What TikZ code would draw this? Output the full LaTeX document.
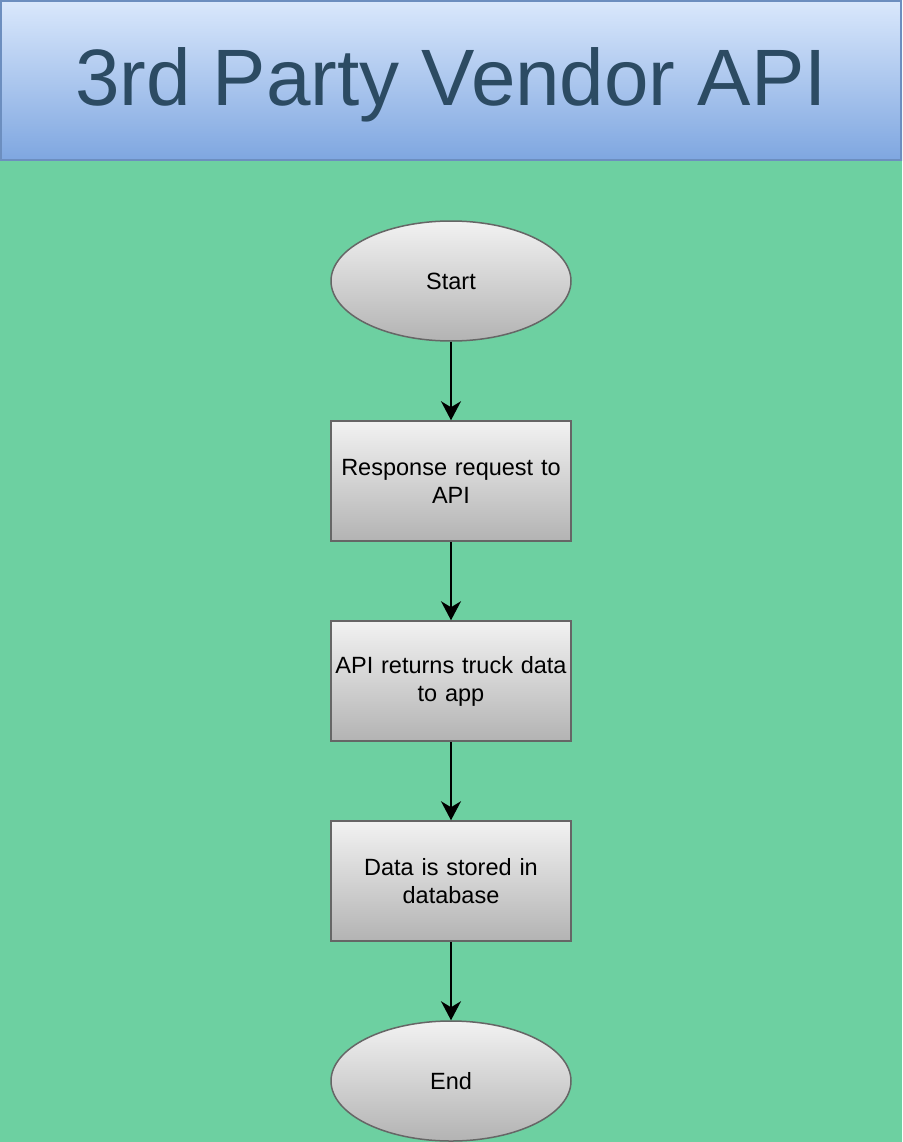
\documentclass[tikz,border=0pt]{standalone}
\usepackage{fontspec}
\setmainfont{Liberation Sans}
\usetikzlibrary{shapes.geometric,arrows.meta}
\definecolor{bggreen}{HTML}{6DD0A1}
\definecolor{titletop}{HTML}{DAE8FC}
\definecolor{titlebot}{HTML}{7EA6E0}
\definecolor{titleborder}{HTML}{6C8EBF}
\definecolor{titletext}{HTML}{2C4B63}
\definecolor{nodetop}{HTML}{F2F2F2}
\definecolor{nodebot}{HTML}{B3B3B3}
\definecolor{nodeborder}{HTML}{666666}
\tikzset{
  flowbox/.style={draw=nodeborder, line width=1.5pt, top color=nodetop, bottom color=nodebot,
    minimum width=240pt, minimum height=120pt, inner sep=0pt, align=center, text width=236pt,
    font=\fontsize{23.5}{28}\selectfont},
  terminal/.style={flowbox, ellipse, text width=, minimum width=240pt, minimum height=120pt},
  flowarrow/.style={-{Stealth[length=19pt,width=20pt,inset=6pt]}, line width=1.8pt, black}
}
\begin{document}
\begin{tikzpicture}[x=1pt,y=-1pt]
\useasboundingbox (0,0) rectangle (902,1142);
\fill[bggreen] (0,0) rectangle (902,1142);
\shade[top color=titletop, bottom color=titlebot] (0,0) rectangle (902,161);
\draw[titleborder, line width=2pt] (1,1) rectangle (901,160);
\node[font=\fontsize{80}{96}\selectfont, text=titletext] (title) at (451,85) {3rd Party Vendor API};
\node[terminal] (start) at (451,281) {Start};
\node[flowbox] (req) at (451,481) {Response request to\\API};
\node[flowbox] (ret) at (451,681) {API returns truck data\\to app};
\node[flowbox] (store) at (451,881) {Data is stored in\\database};
\node[terminal] (end) at (451,1081) {End};
\draw[flowarrow] (start) -- (req);
\draw[flowarrow] (req) -- (ret);
\draw[flowarrow] (ret) -- (store);
\draw[flowarrow] (store) -- (end);
\end{tikzpicture}
\end{document}
